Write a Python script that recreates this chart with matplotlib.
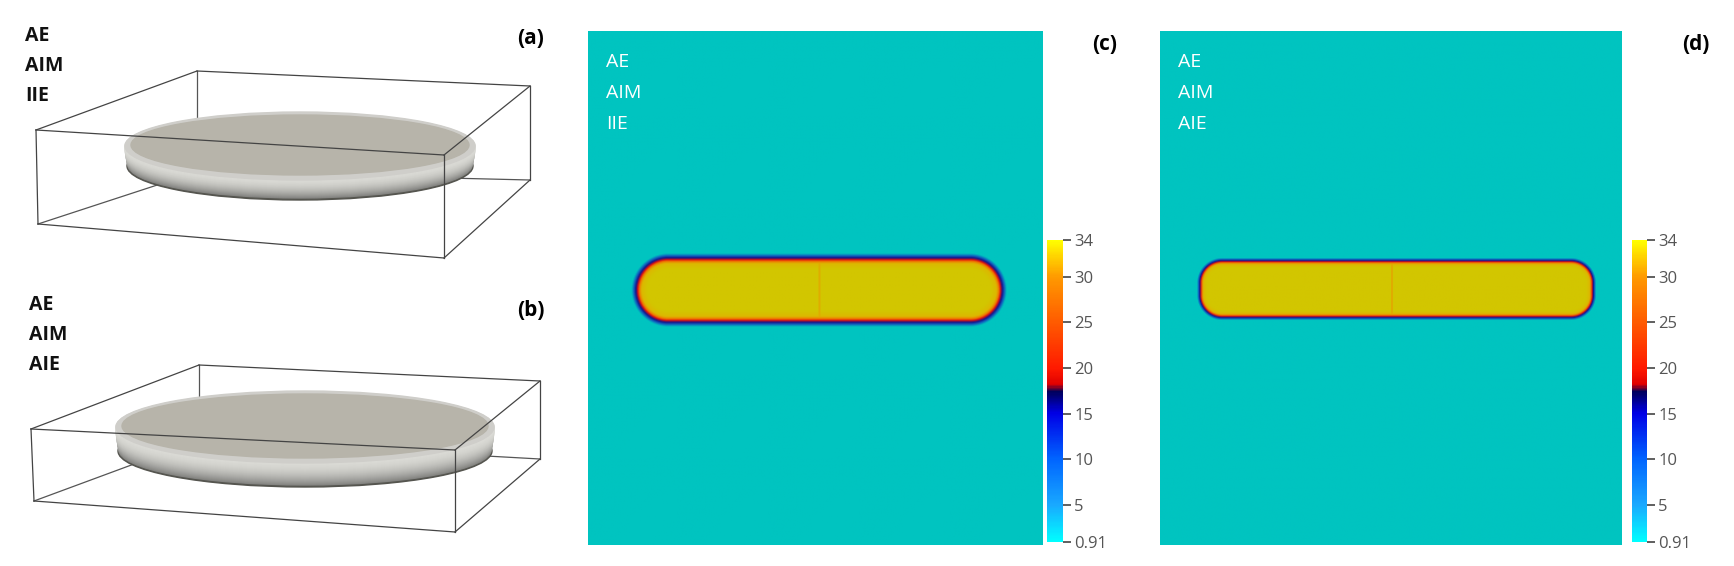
import matplotlib
matplotlib.use("Agg")
import matplotlib.pyplot as plt
import numpy as np
from matplotlib.colors import LinearSegmentedColormap, Normalize
from matplotlib.patches import Ellipse
from matplotlib.colorbar import ColorbarBase

plt.rcParams["font.family"] = ["Open Sans", "DejaVu Sans"]

W, H = 1734, 566

# ── data ──
labels_a = ["AE", "AIM", "IIE"]
labels_b = ["AE", "AIM", "AIE"]
labels_d = ["AE", "AIM", "AIE"]
cbar_ticks = [0.91, 5, 10, 15, 20, 25, 30, 34]
cbar_ticklabels = ["0.91", "5", "10", "15", "20", "25", "30", "34"]
cbar_min, cbar_max = 0.91, 34

# box corners (pixel) for the two 3D views
box_a = dict(BTL=(197, 71), BTR=(530, 86), FTL=(36, 130), FTR=(444, 155),
             FBL=(38, 224), FBR=(444, 258), BBR=(530, 180), BBL=(197, 172))
box_b = dict(BTL=(199, 365), BTR=(540, 381), FTL=(31, 429), FTR=(455, 450),
             FBL=(34, 501), FBR=(455, 532), BBR=(540, 459), BBL=(199, 440))
disk_a = (300, 146, 176, 34, 20)   # cx, cy, rx, ry, thickness
disk_b = (305, 427, 190, 36, 24)

fig = plt.figure(figsize=(W / 100, H / 100), dpi=100)
bg = fig.add_axes([0, 0, 1, 1])
bg.set_xlim(0, W)
bg.set_ylim(H, 0)
bg.axis("off")

back_edges = [("BBL", "BBR"), ("BTL", "BBL"), ("FBL", "BBL")]
front_edges = [("FTL", "FTR"), ("FTL", "FBL"), ("FBL", "FBR"), ("FBR", "FTR"),
               ("FTR", "BTR"), ("BTR", "BBR"), ("BBR", "FBR"), ("BTL", "BTR"),
               ("FTL", "BTL")]


def draw_box(box, disk):
    for a, b in back_edges:
        (x0, y0), (x1, y1) = box[a], box[b]
        bg.plot([x0, x1], [y0, y1], color="#555555", lw=0.9, zorder=1)
    cx, cy, rx, ry, t = disk
    # rim: dark underside, light rounded edge, then the flat top face
    bg.add_patch(Ellipse((cx, cy + t), 2 * rx - 6, 2 * ry, color="#55554f", zorder=2))
    for k in range(t, 0, -1):
        f = k / t
        c = np.array([0.86, 0.86, 0.84]) * (1 - 0.4 * f ** 2)
        shrink = 6 * (1 - np.sin(np.pi * 0.5 * (1 - f))) + 2
        bg.add_patch(Ellipse((cx, cy + k - 1), 2 * rx - shrink, 2 * ry - 2,
                             color=np.clip(c, 0, 1), zorder=3))
    bg.add_patch(Ellipse((cx, cy), 2 * rx - 2, 2 * ry, color="#cfceca", zorder=3.5))
    bg.add_patch(Ellipse((cx, cy - 1), 2 * rx - 14, 2 * ry - 8, color="#b7b4aa", zorder=4))
    for a, b in front_edges:
        (x0, y0), (x1, y1) = box[a], box[b]
        bg.plot([x0, x1], [y0, y1], color="#444444", lw=0.9, zorder=5)


draw_box(box_a, disk_a)
draw_box(box_b, disk_b)

for i, s in enumerate(labels_a):
    bg.text(25, 36 + 30 * i, s, fontsize=14, fontweight="bold", va="center", color="#111111")
for i, s in enumerate(labels_b):
    bg.text(29, 305 + 30 * i, s, fontsize=14, fontweight="bold", va="center", color="#111111")
bg.text(517, 38, "(a)", fontsize=15, fontweight="bold", va="center")
bg.text(517, 310, "(b)", fontsize=15, fontweight="bold", va="center")
bg.text(1092, 45, "(c)", fontsize=15, fontweight="bold", va="center")
bg.text(1682, 45, "(d)", fontsize=15, fontweight="bold", va="center")

# ── 2D sections ──
field_cmap = LinearSegmentedColormap.from_list("edge", [
    (0.0, "#d2c600"), (0.35, "#dcb800"), (0.5, "#f07800"), (0.6, "#e01010"),
    (0.72, "#14148a"), (0.85, "#1060c0"), (1.0, "#00c4c0")])


def section(rect, x1, x2, cy, hh, rad, seam, band, texts):
    ax = fig.add_axes(rect)
    nx, ny = 460, 520
    xx, yy = np.meshgrid(np.arange(nx), np.arange(ny))
    X1, X2 = x1 * nx, x2 * nx
    CY, HH = cy * ny, hh * ny
    r = min(rad, HH)
    # rounded rectangle signed distance
    qx = np.abs(xx - (X1 + X2) / 2) - ((X2 - X1) / 2 - r)
    qy = np.abs(yy - CY) - (HH - r)
    d = np.hypot(np.maximum(qx, 0), np.maximum(qy, 0)) + np.minimum(np.maximum(qx, qy), 0) - r
    sx = seam * nx
    m = np.abs(xx - sx) < 1.0
    d = np.where(m, np.maximum(d, -0.25 * band), d)
    v = np.clip((d + band) / (2 * band), 0, 1)
    ax.imshow(v, cmap=field_cmap, vmin=0, vmax=1, aspect="auto", interpolation="bilinear")
    ax.set_xticks([])
    ax.set_yticks([])
    for s in ax.spines.values():
        s.set_visible(False)
    for i, s in enumerate(texts):
        ax.text(0.04, 0.94 - 0.06 * i, s, transform=ax.transAxes, color="white",
                fontsize=14, va="center")


section([0.339, 0.037, 0.262, 0.908], 0.112, 0.902, 0.503, 0.056, 30, 0.507, 8, labels_a)
section([0.669, 0.037, 0.266, 0.908], 0.09, 0.932, 0.501, 0.051, 20, 0.502, 5, labels_d)

bar_cmap = LinearSegmentedColormap.from_list("bar", [
    (0.0, "#00ffff"), ((5 - 0.91) / 33.09, "#19a8ff"), ((10 - 0.91) / 33.09, "#0064ff"),
    ((15 - 0.91) / 33.09, "#0000e6"), ((17.4 - 0.91) / 33.09, "#00005a"),
    ((18.2 - 0.91) / 33.09, "#e00000"), ((20 - 0.91) / 33.09, "#ff1a00"),
    ((25 - 0.91) / 33.09, "#ff5a00"), ((30 - 0.91) / 33.09, "#ff9a00"), (1.0, "#ffff00")])

for left in (0.604, 0.941):
    cax = fig.add_axes([left, 0.042, 0.009, 0.534])
    cb = ColorbarBase(cax, cmap=bar_cmap, norm=Normalize(cbar_min, cbar_max),
                      ticks=cbar_ticks)
    cb.set_ticklabels(cbar_ticklabels)
    cb.outline.set_visible(False)
    cax.tick_params(length=6, width=1.2, color="#444444", labelcolor="#555555",
                    labelsize=12, pad=2)

fig.savefig("out.png", dpi=100)
